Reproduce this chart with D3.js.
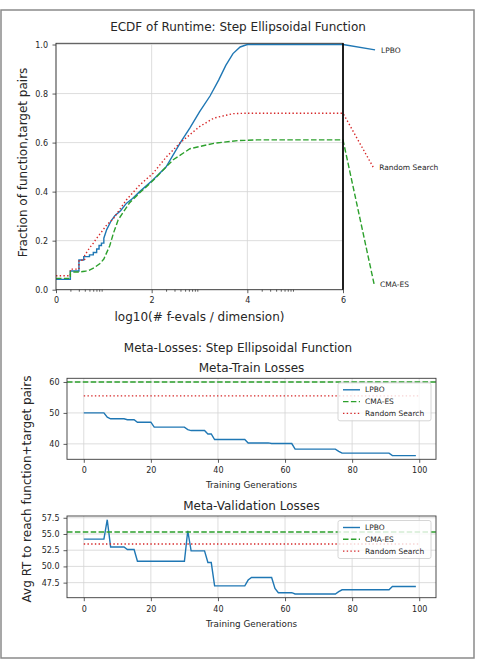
<!DOCTYPE html>
<html>
<head>
<meta charset="utf-8">
<script src="https://cdn.jsdelivr.net/npm/d3@7"></script>
<style>
body { margin: 0; background: #fff; }
svg { display: block; font-family: "DejaVu Sans", sans-serif; }
</style>
</head>
<body>
<svg id="chart" width="477" height="660"></svg>
<script>
// ECDF of runtime, points are [log10(# f-evals / dim), fraction]
var lpboEcdf = [[0, 0.042], [0.3, 0.042], [0.3, 0.076], [0.48, 0.076], [0.48, 0.121], [0.58, 0.121],
    [0.58, 0.135], [0.7, 0.135], [0.7, 0.142], [0.78, 0.142], [0.78, 0.152], [0.85, 0.152], [0.85, 0.166],
    [0.9, 0.166], [0.9, 0.18], [0.95, 0.18], [0.95, 0.19], [1.0, 0.19], [1.0, 0.21], [1.06, 0.245],
    [1.15, 0.28], [1.23, 0.302], [1.35, 0.322], [1.47, 0.352], [1.6, 0.372], [1.75, 0.4], [2.03, 0.448],
    [2.3, 0.5], [2.6, 0.6], [2.8, 0.66], [3.0, 0.725], [3.22, 0.79], [3.4, 0.855], [3.55, 0.915],
    [3.7, 0.963], [3.85, 0.99], [4.0, 1.0], [6, 1.0]];
var randomEcdf = [[0, 0.057], [0.3, 0.057], [0.3, 0.084], [0.48, 0.084], [0.48, 0.12], [0.6, 0.12],
    [0.6, 0.14], [0.7, 0.17], [0.78, 0.19], [0.85, 0.21], [0.95, 0.235], [1.06, 0.264], [1.2, 0.29],
    [1.47, 0.366], [1.75, 0.427], [2.03, 0.475], [2.3, 0.54], [2.6, 0.6], [3.0, 0.665], [3.3, 0.7],
    [3.7, 0.718], [4.0, 0.72], [6, 0.72]];
var cmaEcdf = [[0, 0.046], [0.3, 0.046], [0.3, 0.072], [0.48, 0.072], [0.6, 0.075], [0.7, 0.08],
    [0.8, 0.09], [0.92, 0.107], [1.0, 0.125], [1.125, 0.18], [1.2, 0.23], [1.3, 0.285], [1.54, 0.355],
    [1.75, 0.395], [2.0, 0.44], [2.45, 0.53], [2.8, 0.575], [3.3, 0.597], [3.8, 0.608], [4.2, 0.611],
    [6, 0.611]];
var ecdfNames = ["LPBO", "Random Search", "CMA-ES"];
var ecdfLabelEnds = [[6.67, 0.978], [6.63, 0.5], [6.65, 0.023]];
var ecdfXTicks = [0, 2, 4, 6];
var ecdfYTicks = [0, 0.2, 0.4, 0.6, 0.8, 1.0];

// meta losses per training generation (0..99)
var trainLpbo = [50.0, 50.0, 50.0, 50.0, 50.0, 50.0, 50.0, 48.6, 48.1, 48.1,
    48.1, 48.1, 48.1, 47.8, 47.8, 47.8, 47.0, 47.0, 47.0, 47.0,
    47.0, 45.4, 45.4, 45.4, 45.4, 45.4, 45.4, 45.4, 45.4, 45.4,
    45.4, 44.6, 44.3, 44.3, 44.3, 44.3, 44.3, 43.2, 43.2, 41.4,
    41.4, 41.4, 41.4, 41.4, 41.4, 41.4, 41.4, 41.4, 41.4, 40.3,
    40.3, 40.3, 40.3, 40.3, 40.3, 40.3, 40.1, 40.1, 40.1, 40.1,
    40.1, 40.1, 40.1, 38.3, 38.3, 38.3, 38.3, 38.3, 38.3, 38.3,
    38.3, 38.3, 38.3, 38.3, 38.3, 38.3, 37.6, 37.0, 37.0, 37.0,
    37.0, 37.0, 37.0, 37.0, 37.0, 37.0, 37.0, 37.0, 37.0, 37.0,
    37.0, 37.0, 36.2, 36.2, 36.2, 36.2, 36.2, 36.2, 36.2, 36.2];
var trainCma = 60.0;
var trainRandom = 55.5;

var valLpbo = [54.2, 54.2, 54.2, 54.2, 54.2, 54.2, 54.2, 57.2, 53.0, 53.0,
    53.0, 53.0, 53.0, 52.6, 52.6, 52.6, 50.8, 50.8, 50.8, 50.8,
    50.8, 50.8, 50.8, 50.8, 50.8, 50.8, 50.8, 50.8, 50.8, 50.8,
    50.8, 55.5, 52.4, 52.4, 52.4, 52.4, 52.4, 50.6, 50.6, 47.0,
    47.0, 47.0, 47.0, 47.0, 47.0, 47.0, 47.0, 47.0, 47.0, 47.9,
    48.3, 48.3, 48.3, 48.3, 48.3, 48.3, 48.3, 46.6, 45.95, 45.95,
    45.95, 45.95, 45.95, 45.75, 45.75, 45.75, 45.75, 45.75, 45.75, 45.75,
    45.75, 45.75, 45.75, 45.75, 45.75, 45.75, 46.1, 46.4, 46.4, 46.4,
    46.4, 46.4, 46.4, 46.4, 46.4, 46.4, 46.4, 46.4, 46.4, 46.4,
    46.4, 46.4, 46.9, 46.9, 46.9, 46.9, 46.9, 46.9, 46.9, 46.9];
var valCma = 55.3;
var valRandom = 53.45;

var genTicks = [0, 20, 40, 60, 80, 100];
var trainYTicks = [40, 50, 60];
var valYTicks = [47.5, 50.0, 52.5, 55.0, 57.5];
var legendNames = ["LPBO", "CMA-ES", "Random Search"];

var blue = "#1f77b4", green = "#2ca02c", red = "#d62728";
var gridColor = "#d4d4d4", textColor = "#262626";

var svg = d3.select("#chart");

// outer frame
svg.append("rect")
    .attr("x", 1).attr("y", 10).attr("width", 473).attr("height", 648)
    .attr("fill", "none").attr("stroke", "#8a8a8a").attr("stroke-width", 1.5);

function styleAxis(g, size) {
    g.selectAll(".domain").remove();
    g.selectAll(".tick line").attr("stroke", "#333").attr("stroke-width", 0.8);
    g.selectAll(".tick text").attr("fill", textColor).style("font-size", size + "px")
        .style("font-family", "DejaVu Sans, sans-serif");
}

function lineStyle(sel, color, kind) {
    sel.attr("fill", "none").attr("stroke", color).attr("stroke-width", 1.4);
    if (kind == "dash") sel.attr("stroke-dasharray", "5.5,2.4");
    if (kind == "dot") sel.attr("stroke-dasharray", "1.4,2.3");
    return sel;
}

// ---------- ECDF panel ----------
var ex = d3.scaleLinear().domain([0, 6]).range([56, 343]);
var ey = d3.scaleLinear().domain([0, 1.005]).range([289.7, 43.3]);

svg.append("text").attr("x", 238).attr("y", 30.5).attr("text-anchor", "middle")
    .style("font-size", "12px").attr("fill", textColor)
    .text("ECDF of Runtime: Step Ellipsoidal Function");

var eg = svg.append("g");
eg.selectAll(".vgrid").data(ecdfXTicks).enter().append("line")
    .attr("x1", ex).attr("x2", ex).attr("y1", ey(0)).attr("y2", ey.range()[1])
    .attr("stroke", gridColor).attr("stroke-width", 0.8);
eg.selectAll(".hgrid").data(ecdfYTicks).enter().append("line")
    .attr("x1", ex(0)).attr("x2", ex(6)).attr("y1", ey).attr("y2", ey)
    .attr("stroke", gridColor).attr("stroke-width", 0.8);

var minorTicks = [];
[0, 2, 4].forEach(function(base) {
    d3.range(2, 10).forEach(function(k) { minorTicks.push(base + Math.log10(k)); });
});

var exAxis = eg.append("g").attr("transform", "translate(0," + ey(0) + ")")
    .call(d3.axisBottom(ex).tickValues(ecdfXTicks).tickFormat(d3.format("d")).tickSize(3.5).tickPadding(4));
styleAxis(exAxis, 8);
var exMinor = eg.append("g").attr("transform", "translate(0," + ey(0) + ")")
    .call(d3.axisBottom(ex).tickValues(minorTicks).tickFormat("").tickSize(2));
styleAxis(exMinor, 8);
var eyAxis = eg.append("g").attr("transform", "translate(" + ex(0) + ",0)")
    .call(d3.axisLeft(ey).tickValues(ecdfYTicks).tickFormat(d3.format(".1f")).tickSize(3.5).tickPadding(4.5));
styleAxis(eyAxis, 8);

var eLine = d3.line().x(function(d) { return ex(d[0]); }).y(function(d) { return ey(d[1]); });
var ecdfSeries = [
    {data: lpboEcdf, color: blue, kind: "solid"},
    {data: randomEcdf, color: red, kind: "dot"},
    {data: cmaEcdf, color: green, kind: "dash"}
];
ecdfSeries.forEach(function(s, i) {
    var pts = s.data.concat([ecdfLabelEnds[i]]);
    lineStyle(eg.append("path").attr("d", eLine(pts)), s.color, s.kind);
    eg.append("text")
        .attr("x", ex(ecdfLabelEnds[i][0]) + 6)
        .attr("y", ey(ecdfLabelEnds[i][1]) + 2.6)
        .style("font-size", "7.5px").attr("fill", textColor)
        .text(ecdfNames[i]);
});

// frame
eg.append("rect").attr("x", ex(0)).attr("y", ey.range()[1])
    .attr("width", ex(6) - ex(0)).attr("height", ey(0) - ey.range()[1])
    .attr("fill", "none").attr("stroke", "#333").attr("stroke-width", 0.9);
eg.append("line").attr("x1", ex(6)).attr("x2", ex(6)).attr("y1", ey(0)).attr("y2", ey.range()[1])
    .attr("stroke", "#000").attr("stroke-width", 1.6);

svg.append("text").attr("x", (ex(0) + ex(6)) / 2).attr("y", 320.5).attr("text-anchor", "middle")
    .style("font-size", "12px").attr("fill", textColor)
    .text("log10(# f-evals / dimension)");
svg.append("text").attr("transform", "translate(27,162.5) rotate(-90)").attr("text-anchor", "middle")
    .style("font-size", "12px").attr("fill", textColor)
    .text("Fraction of function,target pairs");

// ---------- Meta-loss panels ----------
svg.append("text").attr("x", 238).attr("y", 351.5).attr("text-anchor", "middle")
    .style("font-size", "12px").attr("fill", textColor)
    .text("Meta-Losses: Step Ellipsoidal Function");
svg.append("text").attr("transform", "translate(31,489) rotate(-90)").attr("text-anchor", "middle")
    .style("font-size", "12px").attr("fill", textColor)
    .text("Avg RT to reach function+target pairs");

function padded(values) {
    var ext = d3.extent(values), pad = (ext[1] - ext[0]) * 0.05;
    return [ext[0] - pad, ext[1] + pad];
}

function lossPanel(opts) {
    var x = d3.scaleLinear().domain([-5, 105]).range([67, 436]);
    var y = d3.scaleLinear().domain(padded(opts.lpbo.concat([opts.cma, opts.random])))
        .range([opts.bottom, opts.top]);
    var g = svg.append("g");
    var mid = (x.range()[0] + x.range()[1]) / 2;

    g.append("text").attr("x", mid).attr("y", opts.top - 6).attr("text-anchor", "middle")
        .style("font-size", "12px").attr("fill", textColor).text(opts.title);

    g.selectAll(".vgrid").data(genTicks).enter().append("line")
        .attr("x1", x).attr("x2", x).attr("y1", opts.bottom).attr("y2", opts.top)
        .attr("stroke", gridColor).attr("stroke-width", 0.8);
    g.selectAll(".hgrid").data(opts.yTicks).enter().append("line")
        .attr("x1", x.range()[0]).attr("x2", x.range()[1]).attr("y1", y).attr("y2", y)
        .attr("stroke", gridColor).attr("stroke-width", 0.8);

    var xa = g.append("g").attr("transform", "translate(0," + opts.bottom + ")")
        .call(d3.axisBottom(x).tickValues(genTicks).tickSize(3.5).tickPadding(5));
    styleAxis(xa, 8);
    var ya = g.append("g").attr("transform", "translate(" + x.range()[0] + ",0)")
        .call(d3.axisLeft(y).tickValues(opts.yTicks).tickFormat(opts.fmt).tickSize(3.5).tickPadding(4));
    styleAxis(ya, 8);

    var line = d3.line().x(function(d, i) { return x(i); }).y(function(d) { return y(d); });
    lineStyle(g.append("path").attr("d", line(opts.lpbo)), blue, "solid");
    lineStyle(g.append("line").attr("x1", x.range()[0]).attr("x2", x.range()[1])
        .attr("y1", y(opts.cma)).attr("y2", y(opts.cma)), green, "dash");
    lineStyle(g.append("line").attr("x1", x(0)).attr("x2", x(100))
        .attr("y1", y(opts.random)).attr("y2", y(opts.random)), red, "dot");

    g.append("rect").attr("x", x.range()[0]).attr("y", opts.top)
        .attr("width", x.range()[1] - x.range()[0]).attr("height", opts.bottom - opts.top)
        .attr("fill", "none").attr("stroke", "#3a3a3a").attr("stroke-width", 0.9);

    g.append("text").attr("x", mid).attr("y", opts.bottom + 29).attr("text-anchor", "middle")
        .style("font-size", "8.8px").attr("fill", textColor).text("Training Generations");

    // legend
    var lx = x.range()[1] - 98, ly = opts.top + 4.5;
    var lg = g.append("g").attr("transform", "translate(" + lx + "," + ly + ")");
    lg.append("rect").attr("width", 93).attr("height", 38).attr("rx", 2)
        .attr("fill", "#fff").attr("fill-opacity", 0.8).attr("stroke", "#cccccc").attr("stroke-width", 0.8);
    var styles = [[blue, "solid"], [green, "dash"], [red, "dot"]];
    legendNames.forEach(function(name, i) {
        var yy = 7 + i * 11.8;
        lineStyle(lg.append("line").attr("x1", 5).attr("x2", 22).attr("y1", yy).attr("y2", yy),
            styles[i][0], styles[i][1]);
        lg.append("text").attr("x", 27).attr("y", yy + 2.7)
            .style("font-size", "7.5px").attr("fill", textColor).text(name);
    });
}

lossPanel({title: "Meta-Train Losses", lpbo: trainLpbo, cma: trainCma, random: trainRandom,
    top: 378.3, bottom: 459.3, yTicks: trainYTicks, fmt: d3.format("d")});
lossPanel({title: "Meta-Validation Losses", lpbo: valLpbo, cma: valCma, random: valRandom,
    top: 516, bottom: 597.7, yTicks: valYTicks, fmt: d3.format(".1f")});
</script>
</body>
</html>
